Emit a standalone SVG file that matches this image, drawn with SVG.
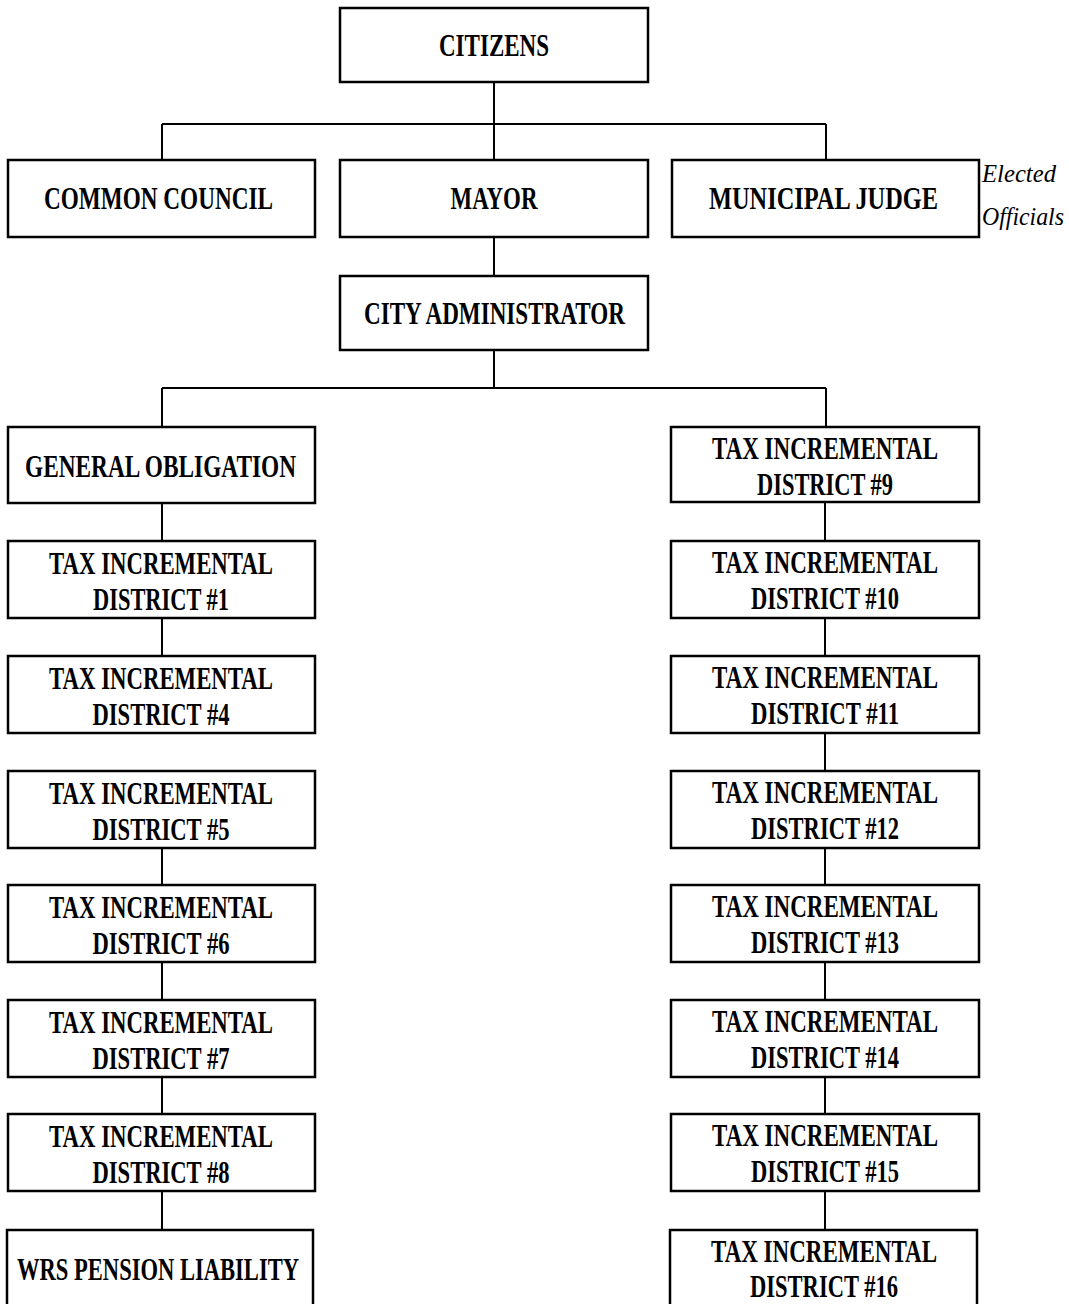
<svg xmlns="http://www.w3.org/2000/svg" width="1069" height="1304" viewBox="0 0 1069 1304">
<style>
.box{fill:#fff;stroke:#000;stroke-width:2.5}
.lbl{font-family:"Liberation Serif","Times New Roman",serif;font-weight:bold;font-size:31px;fill:#000;text-anchor:middle}
.ital{font-family:"Liberation Serif","Times New Roman",serif;font-style:italic;font-size:25px;fill:#000}
.con{stroke:#000;stroke-width:2;fill:none}
</style>
<rect width="1069" height="1304" fill="#fff"/>
<g id="connectors" class="con">
<path d="M494 82V124M162 124H826M162 124V160M494 124V160M826 124V160"/>
<path d="M494 237V276"/>
<path d="M494 350V388M162 388H826M162 388V427M826 388V427"/>
<path d="M162 503V541M162 618V656M162 848V885M162 962V1000M162 1077V1114M162 1191V1229"/>
<path d="M825 502V541M825 618V656M825 733V771M825 848V885M825 962V1000M825 1077V1114M825 1191V1229"/>
</g>
<g id="citizens"><rect class="box" x="340" y="8" width="308" height="74"/><text class="lbl" x="494" y="56" textLength="110" lengthAdjust="spacingAndGlyphs">CITIZENS</text></g>
<g id="common-council"><rect class="box" x="8" y="160" width="307" height="77"/><text class="lbl" x="158.5" y="209" textLength="229" lengthAdjust="spacingAndGlyphs">COMMON COUNCIL</text></g>
<g id="mayor"><rect class="box" x="340" y="160" width="308" height="77"/><text class="lbl" x="494" y="209" textLength="87" lengthAdjust="spacingAndGlyphs">MAYOR</text></g>
<g id="municipal-judge"><rect class="box" x="672" y="160" width="307" height="77"/><text class="lbl" x="823.5" y="209" textLength="229" lengthAdjust="spacingAndGlyphs">MUNICIPAL JUDGE</text></g>
<g id="elected-officials"><text class="ital" x="982" y="182" textLength="74" lengthAdjust="spacingAndGlyphs">Elected</text><text class="ital" x="982" y="225" textLength="82" lengthAdjust="spacingAndGlyphs">Officials</text></g>
<g id="city-administrator"><rect class="box" x="340" y="276" width="308" height="74"/><text class="lbl" x="494.5" y="324" textLength="261" lengthAdjust="spacingAndGlyphs">CITY ADMINISTRATOR</text></g>
<g id="general-obligation"><rect class="box" x="8" y="427" width="307" height="76"/><text class="lbl" x="160.5" y="477" textLength="271" lengthAdjust="spacingAndGlyphs">GENERAL OBLIGATION</text></g>
<g id="tid1"><rect class="box" x="8" y="541" width="307" height="77"/><text class="lbl" x="161" y="574" textLength="224" lengthAdjust="spacingAndGlyphs">TAX INCREMENTAL</text><text class="lbl" x="161" y="610" textLength="136" lengthAdjust="spacingAndGlyphs">DISTRICT #1</text></g>
<g id="tid4"><rect class="box" x="8" y="656" width="307" height="77"/><text class="lbl" x="161" y="689" textLength="224" lengthAdjust="spacingAndGlyphs">TAX INCREMENTAL</text><text class="lbl" x="161" y="725" textLength="137" lengthAdjust="spacingAndGlyphs">DISTRICT #4</text></g>
<g id="tid5"><rect class="box" x="8" y="771" width="307" height="77"/><text class="lbl" x="161" y="804" textLength="224" lengthAdjust="spacingAndGlyphs">TAX INCREMENTAL</text><text class="lbl" x="161" y="840" textLength="137" lengthAdjust="spacingAndGlyphs">DISTRICT #5</text></g>
<g id="tid6"><rect class="box" x="8" y="885" width="307" height="77"/><text class="lbl" x="161" y="918" textLength="224" lengthAdjust="spacingAndGlyphs">TAX INCREMENTAL</text><text class="lbl" x="161" y="954" textLength="137" lengthAdjust="spacingAndGlyphs">DISTRICT #6</text></g>
<g id="tid7"><rect class="box" x="8" y="1000" width="307" height="77"/><text class="lbl" x="161" y="1033" textLength="224" lengthAdjust="spacingAndGlyphs">TAX INCREMENTAL</text><text class="lbl" x="161" y="1069" textLength="137" lengthAdjust="spacingAndGlyphs">DISTRICT #7</text></g>
<g id="tid8"><rect class="box" x="8" y="1114" width="307" height="77"/><text class="lbl" x="161" y="1147" textLength="224" lengthAdjust="spacingAndGlyphs">TAX INCREMENTAL</text><text class="lbl" x="161" y="1183" textLength="137" lengthAdjust="spacingAndGlyphs">DISTRICT #8</text></g>
<g id="wrs-pension"><rect class="box" x="7" y="1230" width="306" height="90"/><text class="lbl" x="158" y="1280" textLength="282" lengthAdjust="spacingAndGlyphs">WRS PENSION LIABILITY</text></g>
<g id="tid9"><rect class="box" x="671" y="427" width="308" height="75"/><text class="lbl" x="825" y="459" textLength="226" lengthAdjust="spacingAndGlyphs">TAX INCREMENTAL</text><text class="lbl" x="825" y="495" textLength="136" lengthAdjust="spacingAndGlyphs">DISTRICT #9</text></g>
<g id="tid10"><rect class="box" x="671" y="541" width="308" height="77"/><text class="lbl" x="825" y="573" textLength="226" lengthAdjust="spacingAndGlyphs">TAX INCREMENTAL</text><text class="lbl" x="825" y="609" textLength="148" lengthAdjust="spacingAndGlyphs">DISTRICT #10</text></g>
<g id="tid11"><rect class="box" x="671" y="656" width="308" height="77"/><text class="lbl" x="825" y="688" textLength="226" lengthAdjust="spacingAndGlyphs">TAX INCREMENTAL</text><text class="lbl" x="825" y="724" textLength="148" lengthAdjust="spacingAndGlyphs">DISTRICT #11</text></g>
<g id="tid12"><rect class="box" x="671" y="771" width="308" height="77"/><text class="lbl" x="825" y="803" textLength="226" lengthAdjust="spacingAndGlyphs">TAX INCREMENTAL</text><text class="lbl" x="825" y="839" textLength="148" lengthAdjust="spacingAndGlyphs">DISTRICT #12</text></g>
<g id="tid13"><rect class="box" x="671" y="885" width="308" height="77"/><text class="lbl" x="825" y="917" textLength="226" lengthAdjust="spacingAndGlyphs">TAX INCREMENTAL</text><text class="lbl" x="825" y="953" textLength="148" lengthAdjust="spacingAndGlyphs">DISTRICT #13</text></g>
<g id="tid14"><rect class="box" x="671" y="1000" width="308" height="77"/><text class="lbl" x="825" y="1032" textLength="226" lengthAdjust="spacingAndGlyphs">TAX INCREMENTAL</text><text class="lbl" x="825" y="1068" textLength="148" lengthAdjust="spacingAndGlyphs">DISTRICT #14</text></g>
<g id="tid15"><rect class="box" x="671" y="1114" width="308" height="77"/><text class="lbl" x="825" y="1146" textLength="226" lengthAdjust="spacingAndGlyphs">TAX INCREMENTAL</text><text class="lbl" x="825" y="1182" textLength="148" lengthAdjust="spacingAndGlyphs">DISTRICT #15</text></g>
<g id="tid16"><rect class="box" x="670" y="1230" width="307" height="90"/><text class="lbl" x="824" y="1262" textLength="226" lengthAdjust="spacingAndGlyphs">TAX INCREMENTAL</text><text class="lbl" x="824" y="1297" textLength="148" lengthAdjust="spacingAndGlyphs">DISTRICT #16</text></g>
</svg>
